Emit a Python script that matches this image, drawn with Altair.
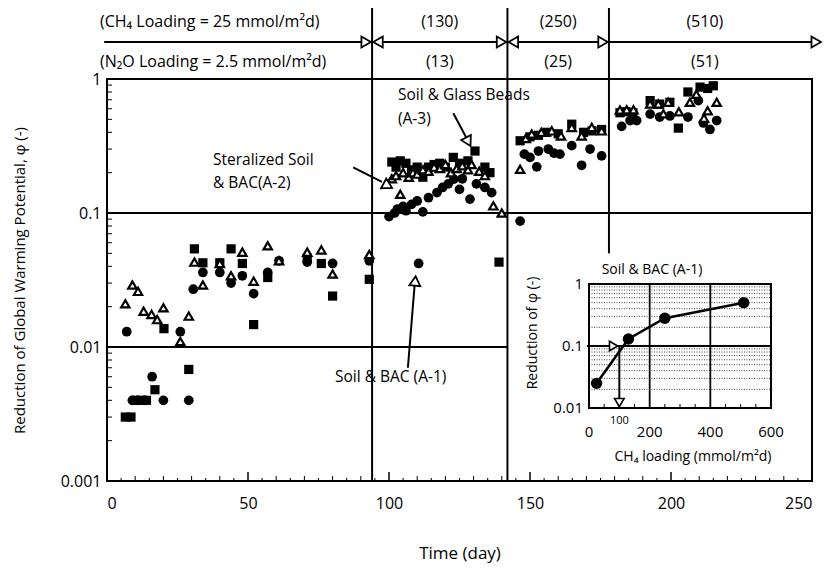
import altair as alt
import pandas as pd

# ---------------- data ----------------
# A-1 : Soil & BAC (filled circles)
a1_day = [7, 9, 11, 13.5, 16, 20, 26, 29, 30.6, 34, 40, 44, 48, 52, 57, 61, 71, 80, 93,
          100, 102, 103, 105, 106, 108, 110, 110.5, 112, 114, 117, 119, 121, 123, 125, 126,
          128.7, 131, 134, 136.4,
          146.5, 148, 150, 152.4, 153, 156.5, 158.5, 160.6, 164.8, 168.3, 171.3, 175.4,
          182.5, 185.5, 187.8, 192.6, 196, 199.6, 206, 209.7, 211.5, 213.8, 216.2]
a1_phi = [0.013, 0.004, 0.004, 0.004, 0.006, 0.004, 0.013, 0.004, 0.027, 0.036, 0.036, 0.030,
          0.034, 0.025, 0.036, 0.044, 0.043, 0.042, 0.044,
          0.094, 0.10, 0.107, 0.112, 0.104, 0.116, 0.123, 0.042, 0.102, 0.13, 0.142, 0.155,
          0.165, 0.179, 0.15, 0.18, 0.127, 0.165, 0.155, 0.142,
          0.087, 0.275, 0.26, 0.221, 0.29, 0.30, 0.28, 0.275, 0.318, 0.227, 0.30, 0.267,
          0.443, 0.49, 0.49, 0.547, 0.52, 0.53, 0.52, 0.69, 0.47, 0.42, 0.49]

# A-2 : Steralized Soil & BAC (open triangles)
a2_day = [6.5, 9, 11, 13, 15.8, 17.8, 20, 26, 29, 31, 34, 40, 44, 48, 52, 57, 61, 71, 76, 80, 93,
          99, 101, 102.5, 104, 105, 107, 108.5, 110, 112, 114, 116, 118, 120, 122, 124, 126,
          128, 129.3, 132, 134, 137, 140,
          146.5, 148.5, 150.6, 154, 157.7, 161, 164.8, 168.3, 171.9, 175.4,
          181.9, 184.3, 186.7, 192.6, 195.5, 197.3, 199, 202.8, 206.7, 209, 211.7, 213, 216.2]
a2_phi = [0.021, 0.029, 0.026, 0.0185, 0.0175, 0.016, 0.0196, 0.011, 0.017, 0.043, 0.029, 0.042,
          0.034, 0.051, 0.031, 0.057, 0.044, 0.051, 0.053, 0.035, 0.049,
          0.165, 0.18, 0.19, 0.138, 0.2, 0.185, 0.2, 0.195, 0.21, 0.205, 0.22, 0.215, 0.23, 0.2,
          0.215, 0.225, 0.21, 0.23, 0.205, 0.19, 0.113, 0.10,
          0.212, 0.36, 0.388, 0.40, 0.41, 0.376, 0.435, 0.376, 0.435, 0.41,
          0.586, 0.59, 0.59, 0.65, 0.65, 0.55, 0.67, 0.57, 0.67, 0.77, 0.51, 0.58, 0.67]

# A-3 : Soil & Glass Beads (filled squares)
a3_day = [6.5, 8.5, 10, 12, 14, 17, 20.2, 29, 31, 34, 40, 44, 48, 52, 57, 71, 76, 80, 93,
          101, 102.5, 104, 106, 108, 110, 112, 114, 116, 118, 120, 122.8, 125, 128, 130.5, 134,
          135.8, 139,
          146.5, 150, 153, 156, 160, 164.8, 169, 172, 175.4,
          181.9, 184, 186.5, 192.6, 196, 199.6, 202.6, 206, 210.3, 213, 215]
a3_phi = [0.003, 0.003, 0.004, 0.004, 0.004, 0.0048, 0.0137, 0.0068, 0.054, 0.0425, 0.0425, 0.054,
          0.042, 0.0147, 0.033, 0.046, 0.042, 0.024, 0.032,
          0.24, 0.22, 0.245, 0.235, 0.21, 0.22, 0.185, 0.22, 0.23, 0.235, 0.22, 0.26, 0.235,
          0.245, 0.29, 0.22, 0.20, 0.043,
          0.346, 0.37, 0.38, 0.40, 0.39, 0.46, 0.40, 0.41, 0.42,
          0.56, 0.57, 0.56, 0.69, 0.65, 0.67, 0.43, 0.80, 0.87, 0.85, 0.89]

# loading periods (days where loading changes)
period_bounds = [94, 142, 178]
ch4_labels = ["(130)", "(250)", "(510)"]
n2o_labels = ["(13)", "(25)", "(51)"]
label_days = [118, 160, 212]

# inset : reduction of phi vs CH4 loading (A-1)
inset_load = [25, 130, 250, 510]
inset_phi = [0.025, 0.13, 0.28, 0.5]

x_ticks = [0, 50, 100, 150, 200, 250]
y_ticks = [0.001, 0.01, 0.1, 1]
inset_x_ticks = [0, 200, 400, 600]
inset_y_ticks = [1, 0.1, 0.01]

FONT = "Open Sans"
W, H = 705, 402

# ---------------- main scales / axes ----------------
xs = alt.Scale(domain=[0, 250], nice=False)
ys = alt.Scale(type="log", domain=[0.001, 1], nice=False)
x_axis = alt.Axis(values=x_ticks, format="d", ticks=False, domain=False, grid=False,
                  labelFont=FONT, labelFontSize=16, labelPadding=14, labelColor="black",
                  title="Time (day)", titleFont=FONT, titleFontSize=17, titleFontWeight="normal",
                  titleColor="black", titleY=72, titleBaseline="middle")
y_axis = alt.Axis(values=y_ticks, format=".3~f", ticks=False, domain=False, grid=False,
                  labelFont=FONT, labelFontSize=16, labelPadding=6, labelColor="black",
                  title="Reduction of Global Warming Potential,  φ (-)", titleFont=FONT,
                  titleFontSize=15, titleFontWeight="normal", titleColor="black",
                  titleX=-80, titleY=201)


def X(f):
    return alt.X(f, type="quantitative", scale=xs, axis=x_axis)


def Y(f):
    return alt.Y(f, type="quantitative", scale=ys, axis=y_axis)


layers = []

# horizontal grid lines
hg = pd.DataFrame({"x0": [0, 0], "x1": [250, period_bounds[1]], "y": [0.1, 0.01]})
layers.append(alt.Chart(hg).mark_rule(color="black", strokeWidth=2).encode(
    x=X("x0"), x2="x1", y=Y("y")))

# vertical period lines inside plot
vl = pd.DataFrame({"d": period_bounds, "top": [1, 1, 1], "bot": [0.001, 0.001, 0.05]})
layers.append(alt.Chart(vl).mark_rule(color="black", strokeWidth=2).encode(
    x=X("d"), y=Y("top"), y2="bot"))
# vertical period lines above plot
layers.append(alt.Chart(vl).mark_rule(color="black", strokeWidth=2).encode(
    x=X("d"), y=alt.value(-71), y2=alt.value(0)))

# inward ticks on y axis
minor_y = [m * 10 ** e for e in (-3, -2, -1) for m in range(2, 10)]
layers.append(alt.Chart(pd.DataFrame({"v": minor_y})).mark_rule(color="black", strokeWidth=1).encode(
    y=Y("v"), x=alt.value(0), x2=alt.value(5)))
# inward ticks on x axis
minor_x = [d for d in range(5, 250, 5) if d % 50 != 0]
layers.append(alt.Chart(pd.DataFrame({"d": [d for d in minor_x if d % 10 == 0]})).mark_rule(
    color="black", strokeWidth=1).encode(x=X("d"), y=alt.value(H), y2=alt.value(H - 5)))
layers.append(alt.Chart(pd.DataFrame({"d": [d for d in minor_x if d % 10 != 0]})).mark_rule(
    color="black", strokeWidth=1).encode(x=X("d"), y=alt.value(H), y2=alt.value(H - 3)))
layers.append(alt.Chart(pd.DataFrame({"d": [50, 100, 150, 200]})).mark_rule(
    color="black", strokeWidth=1.5).encode(x=X("d"), y=alt.value(H), y2=alt.value(H - 9)))

# data points
df1 = pd.DataFrame({"day": a1_day, "phi": a1_phi})
df2 = pd.DataFrame({"day": a2_day, "phi": a2_phi})
df3 = pd.DataFrame({"day": a3_day, "phi": a3_phi})
layers.append(alt.Chart(df3).mark_point(shape="square", filled=True, color="black", size=85,
                                        opacity=1).encode(x=X("day"), y=Y("phi")))
layers.append(alt.Chart(df1).mark_point(shape="circle", filled=True, color="black", size=95,
                                        opacity=1).encode(x=X("day"), y=Y("phi")))
layers.append(alt.Chart(df2).mark_point(shape="triangle-up", filled=True, fill="white",
                                        stroke="black", strokeWidth=2.2, size=70,
                                        opacity=1).encode(x=X("day"), y=Y("phi")))

# top loading arrows
layers.append(alt.Chart(pd.DataFrame({"a": [-1], "b": [251]})).mark_rule(
    color="black", strokeWidth=2).encode(x=X("a"), x2="b", y=alt.value(-37)))
heads_r = pd.DataFrame({"d": [91.9, 139.9, 175.9, 251.5]})
heads_l = pd.DataFrame({"d": [96.1, 144.1]})
layers.append(alt.Chart(heads_r).mark_point(shape="triangle-right", filled=True, fill="white",
                                            stroke="black", strokeWidth=1.8, size=120,
                                            opacity=1).encode(x=X("d"), y=alt.value(-37)))
layers.append(alt.Chart(heads_l).mark_point(shape="triangle-left", filled=True, fill="white",
                                            stroke="black", strokeWidth=1.8, size=120,
                                            opacity=1).encode(x=X("d"), y=alt.value(-37)))

# top texts
top = pd.DataFrame({"d": label_days, "ch4": ch4_labels, "n2o": n2o_labels})
layers.append(alt.Chart(top).mark_text(font=FONT, fontSize=16, color="black").encode(
    x=X("d"), y=alt.value(-57), text="ch4"))
layers.append(alt.Chart(top).mark_text(font=FONT, fontSize=16, color="black").encode(
    x=X("d"), y=alt.value(-17), text="n2o"))
left_txt = pd.DataFrame({"t": ["(CH₄ Loading = 25 mmol/m²d)"]})
layers.append(alt.Chart(left_txt).mark_text(font=FONT, fontSize=16, color="black",
                                            align="left").encode(
    x=alt.value(-7), y=alt.value(-57), text="t"))
left_txt2 = pd.DataFrame({"t": ["(N₂O Loading = 2.5 mmol/m²d)"]})
layers.append(alt.Chart(left_txt2).mark_text(font=FONT, fontSize=16, color="black",
                                             align="left").encode(
    x=alt.value(-7), y=alt.value(-17), text="t"))

# series annotations
ann = pd.DataFrame({
    "t": ["Steralized Soil", "& BAC(A-2)", "Soil & Glass Beads", "(A-3)", "Soil & BAC (A-1)"],
    "px": [106, 106, 291, 291, 228],
    "py": [81, 104, 16, 40, 298],
})
for _, r in ann.iterrows():
    layers.append(alt.Chart(pd.DataFrame({"t": [r.t]})).mark_text(
        font=FONT, fontSize=15.5, color="black", align="left").encode(
        x=alt.value(int(r.px)), y=alt.value(int(r.py)), text="t"))

# annotation arrows (data coordinates)
arr = pd.DataFrame({"x0": [87.3, 122.8, 106.7], "x1": [97.5, 127.3, 109.2],
                    "y0": [0.219, 0.555, 0.0070], "y1": [0.171, 0.369, 0.031]})
layers.append(alt.Chart(arr).mark_rule(color="black", strokeWidth=2).encode(
    x=X("x0"), x2="x1", y=Y("y0"), y2="y1"))
layers.append(alt.Chart(pd.DataFrame({"d": [99.6], "p": [0.160]})).mark_point(
    shape="triangle-right", angle=28, filled=True, fill="white", stroke="black",
    strokeWidth=1.8, size=120, opacity=1).encode(x=X("d"), y=Y("p")))
layers.append(alt.Chart(pd.DataFrame({"d": [128.1], "p": [0.340]})).mark_point(
    shape="triangle-right", angle=62, filled=True, fill="white", stroke="black",
    strokeWidth=1.8, size=120, opacity=1).encode(x=X("d"), y=Y("p")))
layers.append(alt.Chart(pd.DataFrame({"d": [109.3], "p": [0.0311]})).mark_point(
    shape="triangle-up", angle=5, filled=True, fill="white", stroke="black",
    strokeWidth=1.8, size=120, opacity=1).encode(x=X("d"), y=Y("p")))

main = alt.layer(*layers)

# ---------------- inset ----------------
IX0, IX1, IY0, IY1 = 589 - 107, 771 - 107, 408 - 79, 284 - 79
ixs = alt.Scale(domain=[0, 600], range=[IX0, IX1], nice=False, zero=False)
iys = alt.Scale(type="log", domain=[0.01, 1], range=[IY0, IY1], nice=False)


def IX(f):
    return alt.X(f, type="quantitative", scale=ixs, axis=None)


def IY(f):
    return alt.Y(f, type="quantitative", scale=iys, axis=None)


ins = []
minor_i = [m * 10 ** e for e in (-2, -1) for m in range(2, 10)]
ins.append(alt.Chart(pd.DataFrame({"v": minor_i, "a": 0, "b": 600})).mark_rule(
    color="#444", strokeWidth=1, strokeDash=[1, 1.5]).encode(x=IX("a"), x2="b", y=IY("v")))
ins.append(alt.Chart(pd.DataFrame({"a": [0], "b": [600], "v": [0.1]})).mark_rule(
    color="black", strokeWidth=1.8).encode(x=IX("a"), x2="b", y=IY("v")))
ins.append(alt.Chart(pd.DataFrame({"d": [200, 400], "a": 0.01, "b": 1})).mark_rule(
    color="black", strokeWidth=1.8).encode(x=IX("d"), y=IY("a"), y2="b"))
ins.append(alt.Chart(pd.DataFrame({"d": [50, 100, 150, 250, 300, 350, 450, 500, 550]})).mark_rule(
    color="black", strokeWidth=1).encode(x=IX("d"), y=alt.value(IY0), y2=alt.value(IY0 - 4)))
ins.append(alt.Chart(pd.DataFrame({"a": [0], "b": [600], "c": [0.01], "e": [1]})).mark_rect(
    fillOpacity=0, stroke="black", strokeWidth=2).encode(x=IX("a"), x2="b", y=IY("c"), y2="e"))
idf = pd.DataFrame({"load": inset_load, "phi": inset_phi})
ins.append(alt.Chart(idf).mark_line(color="black", strokeWidth=2.5).encode(
    x=IX("load"), y=IY("phi")))
ins.append(alt.Chart(idf).mark_circle(color="black", size=130, opacity=1).encode(
    x=IX("load"), y=IY("phi")))
# inset arrows
ins.append(alt.Chart(pd.DataFrame({"a": [-7], "b": [80], "v": [0.1]})).mark_rule(
    color="black", strokeWidth=2).encode(x=IX("a"), x2="b", y=IY("v")))
ins.append(alt.Chart(pd.DataFrame({"d": [81], "v": [0.1]})).mark_point(
    shape="triangle-right", filled=True, fill="white", stroke="black", strokeWidth=1.6,
    size=90, opacity=1).encode(x=IX("d"), y=IY("v")))
ins.append(alt.Chart(pd.DataFrame({"d": [100], "a": [0.1], "b": [0.0125]})).mark_rule(
    color="black", strokeWidth=2).encode(x=IX("d"), y=IY("a"), y2="b"))
ins.append(alt.Chart(pd.DataFrame({"d": [100], "v": [0.0122]})).mark_point(
    shape="triangle-down", filled=True, fill="white", stroke="black", strokeWidth=1.6,
    size=90, opacity=1).encode(x=IX("d"), y=IY("v")))
# inset tick labels
ins.append(alt.Chart(pd.DataFrame({"v": inset_y_ticks, "t": ["1", "0.1", "0.01"]})).mark_text(
    font=FONT, fontSize=15, color="black", align="right").encode(
    x=alt.value(IX0 - 6), y=IY("v"), text="t"))
ins.append(alt.Chart(pd.DataFrame({"d": inset_x_ticks, "t": ["0", "200", "400", "600"]})).mark_text(
    font=FONT, fontSize=15, color="black").encode(x=IX("d"), y=alt.value(353), text="t"))
ins.append(alt.Chart(pd.DataFrame({"d": [100], "t": ["100"]})).mark_text(
    font=FONT, fontSize=11, color="black").encode(x=IX("d"), y=alt.value(342), text="t"))
ins.append(alt.Chart(pd.DataFrame({"t": ["CH₄ loading (mmol/m²d)"]})).mark_text(
    font=FONT, fontSize=14, color="black").encode(x=alt.value(586), y=alt.value(378), text="t"))
ins.append(alt.Chart(pd.DataFrame({"t": ["Reduction of φ (-)"]})).mark_text(
    font=FONT, fontSize=14, color="black", angle=270).encode(
    x=alt.value(426), y=alt.value(254), text="t"))
ins.append(alt.Chart(pd.DataFrame({"t": ["Soil & BAC (A-1)"]})).mark_text(
    font=FONT, fontSize=14, color="black").encode(x=alt.value(545), y=alt.value(191), text="t"))

inset = alt.layer(*ins)

chart = alt.layer(main, inset).resolve_scale(x="independent", y="independent").properties(
    width=W, height=H,
    padding={"left": 107, "top": 79, "right": 21, "bottom": 93},
    autosize=alt.AutoSizeParams(type="none"),
).configure(background="white").configure_view(stroke="black", strokeWidth=2)

chart.save("out.html", embed_options={"renderer": "svg", "actions": False})
